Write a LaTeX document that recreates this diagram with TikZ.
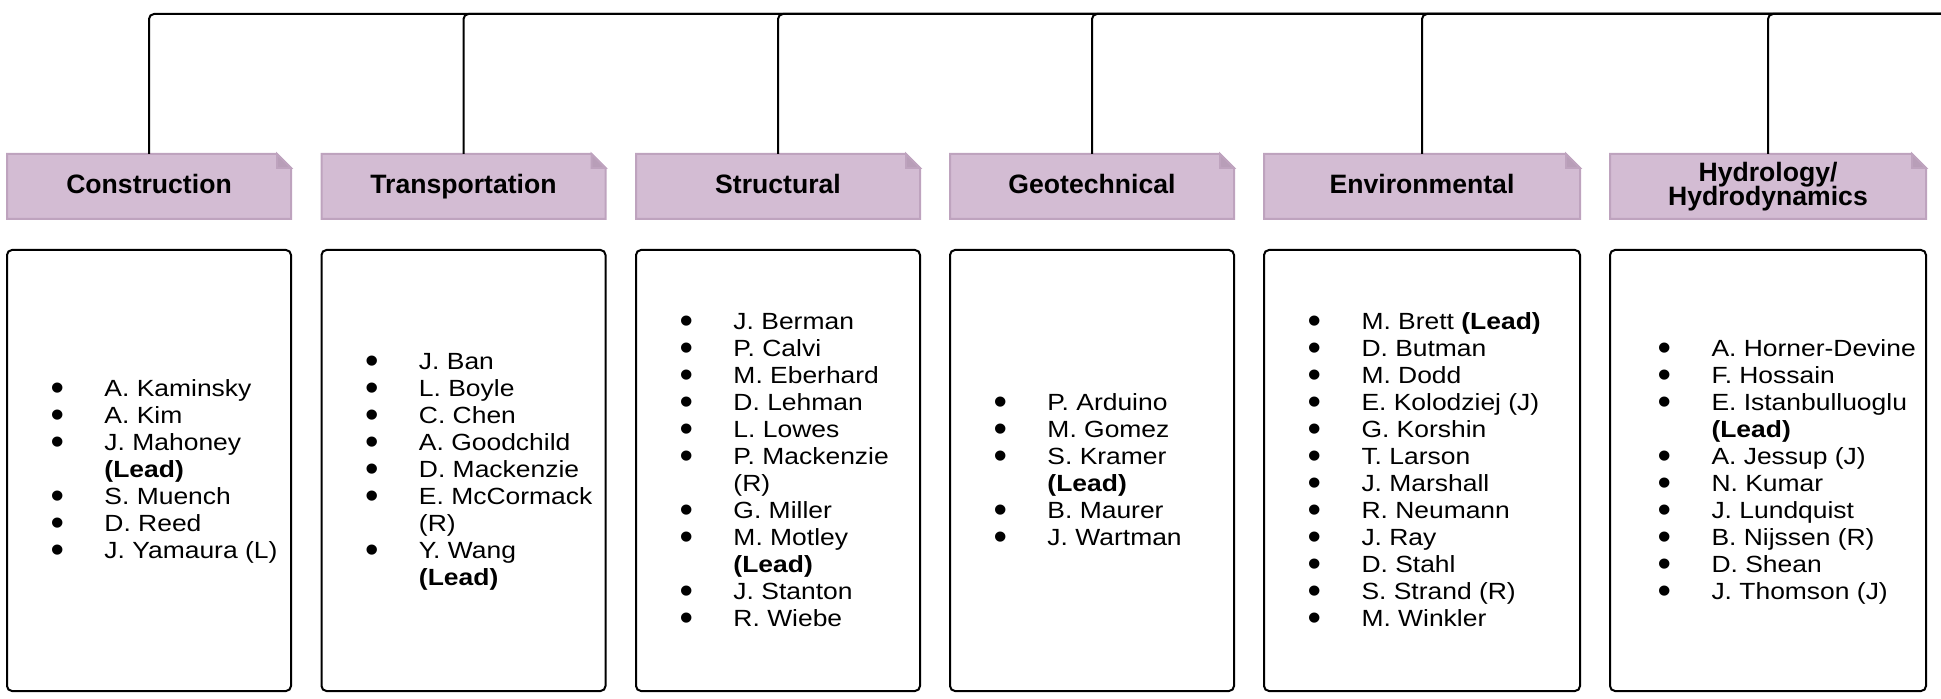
\documentclass[tikz,border=0pt]{standalone}
\usepackage{fontspec}
\setmainfont{Liberation Sans}
\usepackage{graphicx}
\usetikzlibrary{positioning,backgrounds}
\definecolor{headfill}{RGB}{211,188,211}
\definecolor{headline}{RGB}{190,163,190}
\definecolor{foldfill}{RGB}{184,158,184}
\tikzstyle{grouphead} = [minimum height=32.5pt, inner sep=0pt, outer sep=0pt, font=\bfseries\fontsize{13.3}{12.5}\selectfont, text height=9.5pt, text depth=2pt]
\tikzstyle{grouptwo}  = [minimum height=32.5pt, inner sep=0pt, outer sep=0pt, align=center, font=\bfseries\fontsize{13.3}{12.5}\selectfont]
\tikzstyle{groupbody} = [draw, line width=1pt, rounded corners=2.5pt, minimum height=220.5pt, inner sep=0pt, outer sep=0pt]
\tikzstyle{names}     = [right, yshift=-1pt, inner sep=0pt, font=\fontsize{11.7}{13.5}\selectfont]
\tikzstyle{branch}    = [line width=1pt, rounded corners=2.5pt]
% folded corner behind a group heading
\newcommand{\dogear}[1]{%
  \begin{scope}[on background layer]
    \filldraw[fill=headfill, draw=headline, line width=1pt] (#1.south west) -- (#1.north west) -- ([xshift=-7pt]#1.north east) -- ([yshift=-7pt]#1.north east) -- (#1.south east) -- cycle;
    \filldraw[fill=foldfill, draw=headline, line width=1pt] ([xshift=-7pt]#1.north east) -- ([xshift=-7pt,yshift=-7pt]#1.north east) -- ([yshift=-7pt]#1.north east) -- cycle;
  \end{scope}}
% bulleted list of members
\newcommand{\bul}{\hspace*{-1.2pt}\smash{\raisebox{-1.9pt}{\scalebox{1.45}[1.6]{\textbullet}}}}
\newcommand{\roster}[1]{\scalebox{1.13}[1]{\begin{tabular}{@{}p{22.6pt}@{}l@{}}#1\end{tabular}}}

\begin{document}
\begin{tikzpicture}[x=0.5pt, y=-0.5pt]
  \useasboundingbox (0,0) rectangle (1941,699);
  \coordinate (rail) at (1941,14);

  % headings
  \node[grouphead, minimum width=142pt] (cons)  at (149,186.5)  {Construction};
  \node[grouphead, minimum width=142pt] (trans) at (463.5,186.5) {Transportation};
  \node[grouphead, minimum width=142pt] (struc) at (778,186.5)  {Structural};
  \node[grouphead, minimum width=142pt] (geo)   at (1092,186.5) {Geotechnical};
  \node[grouphead, minimum width=158pt] (env)   at (1422,186.5) {Environmental};
  \node[grouptwo,  minimum width=158pt] (hydro) at (1768,186.5) {Hydrology/\\[-0.5pt]Hydrodynamics};

  \foreach \g in {cons,trans,struc,geo,env,hydro}{
    \dogear{\g}
    \draw[branch] (\g.north) |- (rail);
  }

  % member boxes
  \node[groupbody, minimum width=142pt] (consbox)  at (149,470.5)  {};
  \node[groupbody, minimum width=142pt] (transbox) at (463.5,470.5) {};
  \node[groupbody, minimum width=142pt] (strucbox) at (778,470.5)  {};
  \node[groupbody, minimum width=142pt] (geobox)   at (1092,470.5) {};
  \node[groupbody, minimum width=158pt] (envbox)   at (1422,470.5) {};
  \node[groupbody, minimum width=158pt] (hydrobox) at (1768,470.5) {};

  \node[names] (conslist) at ([xshift=23pt]consbox.west) {\roster{%
    \bul & A. Kaminsky\\
    \bul & A. Kim\\
    \bul & J. Mahoney\\
         & \textbf{(Lead)}\\
    \bul & S. Muench\\
    \bul & D. Reed\\
    \bul & J. Yamaura (L)}};
  \node[names] (translist) at ([xshift=23pt]transbox.west) {\roster{%
    \bul & J. Ban\\
    \bul & L. Boyle\\
    \bul & C. Chen\\
    \bul & A. Goodchild\\
    \bul & D. Mackenzie\\
    \bul & E. McCormack\\
         & (R)\\
    \bul & Y. Wang\\
         & \textbf{(Lead)}}};
  \node[names] (struclist) at ([xshift=23pt]strucbox.west) {\roster{%
    \bul & J. Berman\\
    \bul & P. Calvi\\
    \bul & M. Eberhard\\
    \bul & D. Lehman\\
    \bul & L. Lowes\\
    \bul & P. Mackenzie\\
         & (R)\\
    \bul & G. Miller\\
    \bul & M. Motley\\
         & \textbf{(Lead)}\\
    \bul & J. Stanton\\
    \bul & R. Wiebe}};
  \node[names] (geolist) at ([xshift=23pt]geobox.west) {\roster{%
    \bul & P. Arduino\\
    \bul & M. Gomez\\
    \bul & S. Kramer\\
         & \textbf{(Lead)}\\
    \bul & B. Maurer\\
    \bul & J. Wartman}};
  \node[names] (envlist) at ([xshift=23pt]envbox.west) {\roster{%
    \bul & M. Brett \textbf{(Lead)}\\
    \bul & D. Butman\\
    \bul & M. Dodd\\
    \bul & E. Kolodziej (J)\\
    \bul & G. Korshin\\
    \bul & T. Larson\\
    \bul & J. Marshall\\
    \bul & R. Neumann\\
    \bul & J. Ray\\
    \bul & D. Stahl\\
    \bul & S. Strand (R)\\
    \bul & M. Winkler}};
  \node[names] (hydrolist) at ([xshift=25pt]hydrobox.west) {\roster{%
    \bul & A. Horner-Devine\\
    \bul & F. Hossain\\
    \bul & E. Istanbulluoglu\\
         & \textbf{(Lead)}\\
    \bul & A. Jessup (J)\\
    \bul & N. Kumar\\
    \bul & J. Lundquist\\
    \bul & B. Nijssen (R)\\
    \bul & D. Shean\\
    \bul & J. Thomson (J)}};
\end{tikzpicture}
\end{document}
